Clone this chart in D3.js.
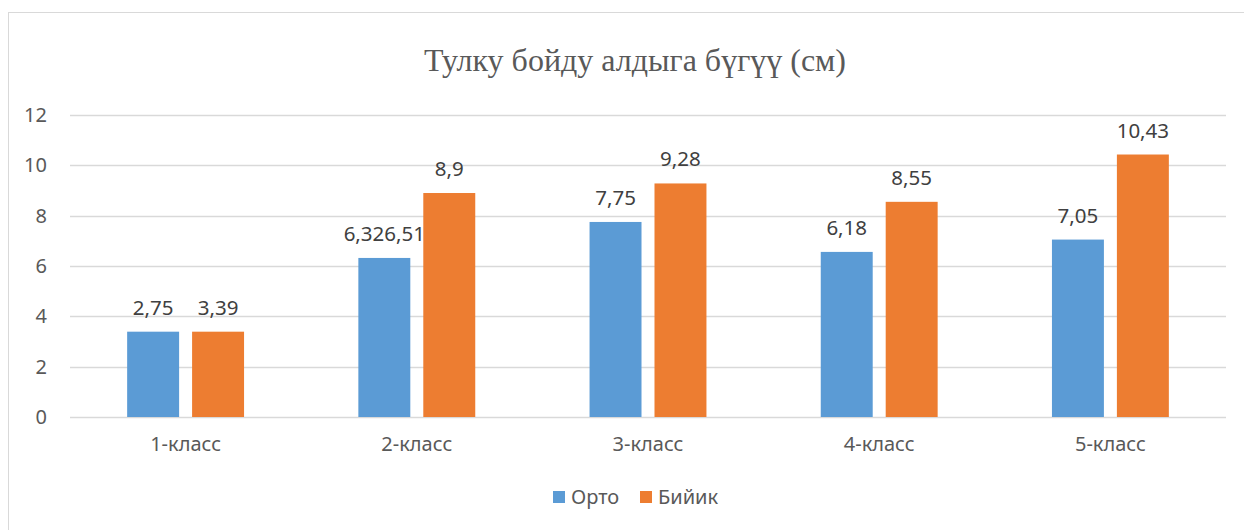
<!DOCTYPE html>
<html>
<head>
<meta charset="utf-8">
<script src="https://cdn.jsdelivr.net/npm/d3@7"></script>
<style>
  body { margin: 0; background: #fff; }
  text { font-family: "Noto Sans", Lato, sans-serif; fill: #595959; }
  .title { font-family: "Liberation Serif", "DejaVu Serif", serif; font-size: 32px; }
  .tick text { font-size: 20px; }
  .barLabel { font-size: 20.5px; fill: #404040; }
</style>
</head>
<body>
<svg id="chart" width="1244" height="530"></svg>
<script>
// data
var classes = ["1-класс", "2-класс", "3-класс", "4-класс", "5-класс"];
var seriesNames = ["Орто", "Бийик"];
var orto = [3.39, 6.32, 7.75, 6.56, 7.05];
var biyik = [3.39, 8.9, 9.28, 8.55, 10.43];
// labels as printed in the picture (they don't all match the bars)
var ortoLabels = ["2,75", "6,326,51", "7,75", "6,18", "7,05"];
var biyikLabels = ["3,39", "8,9", "9,28", "8,55", "10,43"];
var yTicks = [0, 2, 4, 6, 8, 10, 12];
var colors = ["#5b9bd5", "#ed7d31"];

var svg = d3.select("#chart");

// chart frame
svg.append("rect")
    .attr("x", 8.5).attr("y", 12.5)
    .attr("width", 1260).attr("height", 540)
    .attr("fill", "none").attr("stroke", "#d9d9d9");

svg.append("text")
    .attr("class", "title")
    .attr("x", 635).attr("y", 71)
    .attr("text-anchor", "middle")
    .text("Тулку бойду алдыга бүгүү (см)");

var mLeft = 70, mRight = 1226, mTop = 115, mBottom = 417;

var x0 = d3.scaleBand().domain(classes).range([mLeft, mRight]);
var x1 = d3.scaleBand().domain(seriesNames)
    .range([0, x0.bandwidth()])
    .paddingInner(0.2).paddingOuter(0.88);
var y = d3.scaleLinear().domain([0, 12]).range([mBottom, mTop]);
var color = d3.scaleOrdinal().domain(seriesNames).range(colors);

// gridlines
svg.append("g")
    .selectAll("line")
    .data(yTicks)
    .enter().append("line")
    .attr("x1", mLeft).attr("x2", mRight)
    .attr("y1", function (d) { return Math.round(y(d)) + 0.5; })
    .attr("y2", function (d) { return Math.round(y(d)) + 0.5; })
    .attr("stroke", "#d9d9d9")
    .attr("stroke-width", 1.5);

// y axis labels
var yAxis = svg.append("g")
    .attr("transform", "translate(" + (mLeft - 6) + ",0)")
    .call(d3.axisLeft(y).tickValues(yTicks).tickSize(0).tickPadding(17));
yAxis.select(".domain").remove();

// x axis labels
var xAxis = svg.append("g")
    .attr("transform", "translate(0," + mBottom + ")")
    .call(d3.axisBottom(x0).tickSize(0).tickPadding(20));
xAxis.select(".domain").remove();

var rows = classes.map(function (c, i) {
    return {
        cls: c,
        values: [
            {key: "Орто", value: orto[i], label: ortoLabels[i]},
            {key: "Бийик", value: biyik[i], label: biyikLabels[i]}
        ]
    };
});

var groups = svg.selectAll(".grp")
    .data(rows)
    .enter().append("g")
    .attr("class", "grp")
    .attr("transform", function (d) { return "translate(" + x0(d.cls) + ",0)"; });

groups.selectAll("rect")
    .data(function (d) { return d.values; })
    .enter().append("rect")
    .attr("x", function (d) { return x1(d.key); })
    .attr("y", function (d) { return y(d.value); })
    .attr("width", x1.bandwidth())
    .attr("height", function (d) { return y(0) - y(d.value); })
    .attr("fill", function (d) { return color(d.key); });

groups.selectAll(".barLabel")
    .data(function (d) { return d.values; })
    .enter().append("text")
    .attr("class", "barLabel")
    .attr("x", function (d) { return x1(d.key) + x1.bandwidth() / 2; })
    .attr("y", function (d) { return y(d.value) - 17; })
    .attr("text-anchor", "middle")
    .text(function (d) { return d.label; });

// legend
var legend = svg.append("g").attr("transform", "translate(553,497)");
var legendX = [0, 87];
seriesNames.forEach(function (s, i) {
    var g = legend.append("g").attr("transform", "translate(" + legendX[i] + ",0)");
    g.append("rect")
        .attr("x", 0).attr("y", -6)
        .attr("width", 12).attr("height", 12)
        .attr("fill", color(s));
    g.append("text")
        .attr("x", 18).attr("y", 7)
        .style("font-size", "20px")
        .text(s);
});
</script>
</body>
</html>
